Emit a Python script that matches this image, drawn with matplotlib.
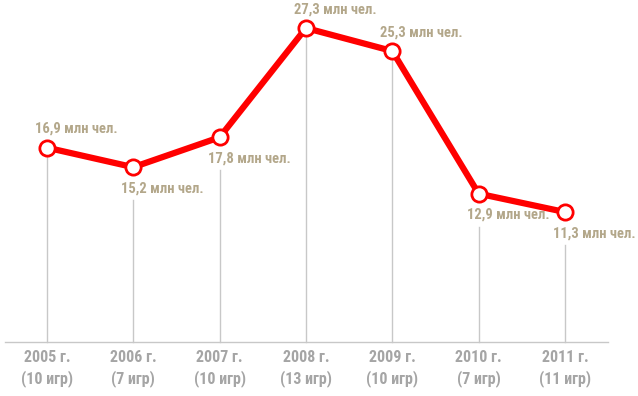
import matplotlib
matplotlib.use("Agg")
import matplotlib.pyplot as plt

# данные
years = ["2005", "2006", "2007", "2008", "2009", "2010", "2011"]
games = [10, 7, 10, 13, 10, 7, 11]
viewers = [16.9, 15.2, 17.8, 27.3, 25.3, 12.9, 11.3]

plt.rcParams["font.family"] = ["Roboto Condensed", "Oswald", "DejaVu Sans"]

label_col = "#b3a78a"
axis_col = "#a5a5a5"
line_col = "#c8c8c8"

fig = plt.figure(figsize=(6.38, 3.96), dpi=100)
ax = fig.add_axes([0, 0, 1, 1])
ax.set_xlim(-0.544, 6.846)
ax.set_ylim(-54 / 11.5, 342 / 11.5)
ax.axis("off")

px = 1 / 11.5  # единиц на пиксель по y
pxx = 1 / 86.33  # по x
xs = list(range(len(years)))
above = [True, False, False, True, True, False, False]

# горизонтальная базовая линия
ax.plot([-0.49, 6.5], [0, 0], color=line_col, lw=1, zorder=1)

for x, v, up in zip(xs, viewers, above):
    top = v if up else v - 33 * px
    ax.plot([x, x], [0, top], color=line_col, lw=1, zorder=1)
    dy = 19 * px if up else -21 * px
    ax.text(x - 12 * pxx, v + dy, f"{v:.1f}".replace(".", ",") + " млн чел.",
            ha="left", va="center", color=label_col, fontsize=10.5,
            fontweight="bold", zorder=4)

ax.plot(xs, viewers, color="#ff0000", lw=4.5, solid_capstyle="round",
        marker="o", markersize=11, markerfacecolor="white",
        markeredgecolor="#ff0000", markeredgewidth=2, zorder=3)

for x, y, g in zip(xs, years, games):
    ax.text(x, -15 * px, f"{y} г.", ha="center", va="center",
            color=axis_col, fontsize=11.5, fontweight="bold")
    ax.text(x, -37 * px, f"({g} игр)", ha="center", va="center",
            color=axis_col, fontsize=11.5, fontweight="bold")

fig.savefig("out.png", dpi=100)
